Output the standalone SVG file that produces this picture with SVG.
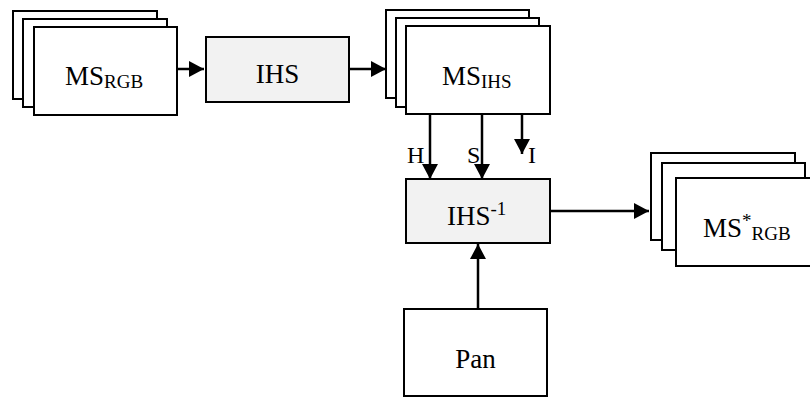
<svg xmlns="http://www.w3.org/2000/svg" width="810" height="397" viewBox="0 0 810 397">
<style>
.box{fill:#fff;stroke:#000;stroke-width:2}
.gray{fill:#f2f2f2;stroke:#000;stroke-width:2}
.t{font-family:"Liberation Serif","Times New Roman",serif;font-size:27px;fill:#000}
.s{font-size:19px}
.lbl{font-family:"Liberation Serif","Times New Roman",serif;font-size:24px;fill:#000}
.c{stroke:#000;stroke-width:2.5;fill:none;marker-end:url(#ah)}
</style>
<defs>
<marker id="ah" markerUnits="userSpaceOnUse" markerWidth="16" markerHeight="16" refX="15" refY="8" orient="auto">
<path d="M0,0 L15,8 L0,16 Z" fill="#000"/>
</marker>
</defs>
<rect width="810" height="397" fill="#fff"/>
<g id="ms-rgb">
<rect class="box" x="13" y="11" width="144" height="88"/>
<rect class="box" x="23" y="19" width="144" height="88"/>
<rect class="box" x="34" y="27" width="143" height="88"/>
<text class="t" x="65" y="85">MS<tspan class="s" dy="3">RGB</tspan></text>
</g>
<g id="ihs">
<rect class="gray" x="206" y="37" width="143" height="65"/>
<text class="t" x="277.5" y="83" text-anchor="middle">IHS</text>
</g>
<g id="ms-ihs">
<rect class="box" x="386" y="10" width="143" height="88"/>
<rect class="box" x="396" y="18" width="143" height="89"/>
<rect class="box" x="406" y="26" width="144" height="88"/>
<text class="t" x="442" y="85">MS<tspan class="s" dy="3">IHS</tspan></text>
</g>
<g id="ihs-inv">
<rect class="gray" x="406" y="179" width="144" height="64"/>
<text class="t" x="447" y="225">IHS<tspan class="s" dy="-10">-1</tspan></text>
</g>
<g id="ms-rgb-star">
<rect class="box" x="651" y="153" width="144" height="87"/>
<rect class="box" x="662" y="163" width="143" height="87"/>
<rect class="box" x="676" y="178" width="144" height="88"/>
<text class="t" x="703" y="237">MS<tspan class="s" dy="-10">*</tspan><tspan class="s" dy="13">RGB</tspan></text>
</g>
<g id="pan">
<rect class="box" x="404" y="309" width="143" height="87"/>
<text class="t" x="475.5" y="368" text-anchor="middle">Pan</text>
</g>
<g id="connectors">
<line class="c" x1="177" y1="69" x2="204" y2="69"/>
<line class="c" x1="349" y1="69" x2="386" y2="69"/>
<line class="c" x1="430" y1="114" x2="430" y2="179"/>
<line class="c" x1="482" y1="114" x2="482" y2="179"/>
<line class="c" x1="522" y1="114" x2="522" y2="154"/>
<line class="c" x1="550" y1="211" x2="649" y2="211"/>
<line class="c" x1="478" y1="309" x2="478" y2="244"/>
<text class="lbl" x="407" y="163">H</text>
<text class="lbl" x="467" y="163">S</text>
<text class="lbl" x="528" y="163">I</text>
</g>
</svg>
